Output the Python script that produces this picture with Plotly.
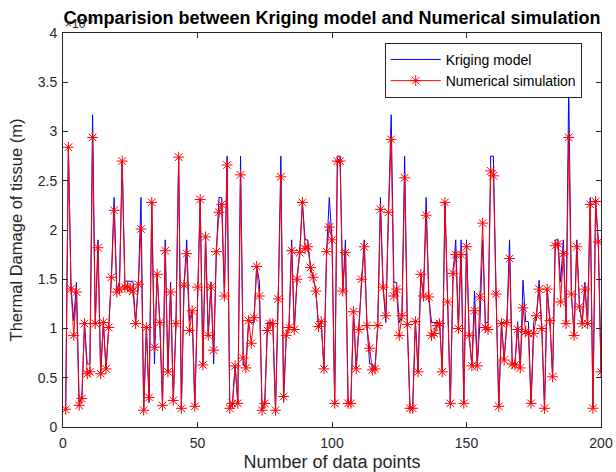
import plotly.graph_objects as go

# Values in units of 1e-3 m (axis shows x10^-3)
numerical = [
    0.18, 2.84, 1.40, 0.93, 1.37, 0.22, 0.29, 1.05, 0.54, 0.56,
    2.94, 1.05, 1.82, 0.54, 1.06, 0.59, 1.01, 1.52, 2.20, 1.37,
    1.40, 2.70, 1.42, 1.43, 1.40, 1.38, 1.05, 1.45, 2.01, 0.17,
    1.01, 0.30, 2.28, 0.81, 1.55, 1.06, 0.22, 1.79, 0.56, 1.37,
    0.27, 1.05, 2.74, 0.19, 1.44, 1.76, 0.98, 1.18, 0.21, 1.42,
    2.31, 0.63, 1.93, 0.93, 1.42, 0.78, 1.78, 2.18, 2.26, 1.33,
    2.66, 0.19, 0.24, 0.62, 0.24, 2.56, 0.70, 0.60, 1.08, 0.85,
    1.11, 1.63, 1.33, 0.17, 0.24, 0.98, 1.05, 1.05, 0.17, 1.30,
    2.54, 0.31, 0.93, 1.01, 1.79, 0.99, 1.50, 1.77, 2.28, 1.81,
    1.83, 1.62, 1.52, 1.38, 1.02, 1.07, 0.59, 1.78, 2.03, 1.90,
    0.24, 2.70, 2.70, 1.38, 1.77, 0.24, 0.24, 1.17, 0.59, 0.99,
    1.50, 1.83, 1.03, 0.80, 0.58, 0.59, 1.03, 2.21, 1.42, 1.13,
    2.18, 2.92, 1.33, 1.40, 0.93, 1.13, 2.53, 1.04, 0.19, 0.19,
    1.07, 0.56, 1.55, 1.33, 2.15, 1.32, 0.93, 0.95, 1.03, 1.05,
    0.56, 2.28, 1.27, 0.24, 1.56, 1.75, 1.00, 1.75, 0.24, 1.83,
    0.93, 0.62, 1.18, 0.62, 1.32, 2.07, 1.01, 0.99, 2.60, 2.55,
    1.35, 0.21, 1.05, 0.68, 1.06, 1.71, 0.64, 0.63, 0.99, 0.60,
    1.21, 0.97, 0.95, 0.24, 0.95, 1.13, 1.40, 1.00, 0.19, 1.40,
    1.08, 0.51, 1.84, 1.86, 1.27, 1.76, 1.05, 2.94, 1.35, 0.93,
    1.83, 1.22, 1.05, 1.40, 1.05, 2.26, 0.19, 2.29, 1.88, 0.56,
]

kriging = [
    0.18, 2.84, 1.40, 1.08, 1.47, 0.25, 0.29, 1.05, 0.64, 0.64,
    3.17, 1.05, 1.90, 0.54, 1.06, 0.59, 1.01, 1.52, 2.33, 1.37,
    1.48, 2.70, 1.48, 1.48, 1.48, 1.48, 1.05, 1.45, 2.33, 0.17,
    1.01, 0.25, 2.28, 0.64, 1.55, 1.06, 0.22, 1.90, 0.56, 1.47,
    0.27, 1.05, 2.74, 0.19, 1.44, 1.90, 1.08, 1.18, 0.21, 1.42,
    2.31, 0.63, 1.93, 0.93, 1.47, 0.64, 1.78, 2.33, 2.33, 1.33,
    2.75, 0.19, 0.24, 0.62, 0.24, 2.75, 0.64, 0.60, 1.08, 1.06,
    1.06, 1.63, 1.48, 0.17, 0.24, 1.06, 1.06, 1.06, 0.17, 1.30,
    2.75, 0.25, 0.93, 1.01, 1.90, 0.99, 1.50, 1.77, 2.28, 1.90,
    1.90, 1.62, 1.52, 1.38, 1.02, 1.07, 0.59, 1.78, 2.33, 1.90,
    0.24, 2.75, 2.75, 1.38, 1.90, 0.24, 0.24, 1.17, 0.59, 1.06,
    1.50, 1.90, 1.03, 0.64, 0.64, 0.59, 1.03, 2.33, 1.42, 1.06,
    2.18, 3.17, 1.47, 1.47, 1.06, 1.13, 2.75, 1.04, 0.19, 0.19,
    1.07, 0.56, 1.55, 1.33, 2.33, 1.32, 1.06, 1.06, 1.06, 1.06,
    0.56, 2.28, 1.27, 0.24, 1.56, 1.90, 1.00, 1.90, 0.24, 1.90,
    0.93, 0.62, 1.38, 0.62, 1.06, 1.90, 1.06, 1.06, 2.75, 2.75,
    1.35, 0.21, 1.05, 0.68, 1.06, 1.90, 0.64, 0.63, 1.07, 0.60,
    1.49, 1.07, 1.07, 0.24, 1.07, 1.13, 1.49, 1.00, 0.19, 1.40,
    1.08, 0.51, 1.90, 1.90, 1.47, 1.90, 1.05, 3.45, 1.35, 0.93,
    1.90, 1.22, 1.05, 1.47, 1.05, 2.33, 0.19, 2.29, 1.88, 0.56,
]

points = list(range(1, len(numerical) + 1))
x_ticks = [0, 50, 100, 150, 200]
y_ticks = [0, 0.5, 1, 1.5, 2, 2.5, 3, 3.5, 4]

FONT = "Liberation Sans, Arial"

fig = go.Figure()
fig.add_trace(go.Scatter(
    x=points, y=kriging, mode="lines", name="Kriging model",
    line=dict(color="#0000FF", width=1),
))
fig.add_trace(go.Scatter(
    x=points, y=numerical, mode="lines+markers", name="Numerical simulation",
    line=dict(color="#FF0000", width=1),
    marker=dict(symbol="asterisk-open", size=9, color="#FF0000",
                line=dict(color="#FF0000", width=1)),
))

axis_common = dict(
    showgrid=False, zeroline=False, showline=True, mirror="ticks",
    linecolor="#262626", linewidth=1, ticks="inside", ticklen=5,
    tickcolor="#262626", automargin=False,
    tickfont=dict(family=FONT, size=14, color="#262626"),
)

fig.update_layout(
    width=616, height=472,
    margin=dict(l=63, r=15, t=33, b=45),
    paper_bgcolor="white", plot_bgcolor="white",
    font=dict(family=FONT, color="#262626"),
    title=dict(
        text="<b>Comparision between Kriging model and Numerical simulation</b>",
        x=0.5, xref="paper", xanchor="center",
        y=1 - 18 / 472, yref="container", yanchor="middle",
        font=dict(family=FONT, size=18, color="#000000"),
    ),
    xaxis=dict(range=[0, 200], tickvals=x_ticks, ticklabelstandoff=3,
               title=dict(text="Number of data points", standoff=6,
                          font=dict(family=FONT, size=18, color="#262626")),
               **axis_common),
    yaxis=dict(range=[0, 4], tickvals=y_ticks, ticklabelstandoff=2,
               title=dict(text="Thermal Damage of tissue (m)", standoff=10,
                          font=dict(family=FONT, size=16.5, color="#262626")),
               **axis_common),
    legend=dict(
        x=0.598, y=0.975, xanchor="left", yanchor="top",
        bgcolor="white", bordercolor="#262626", borderwidth=1,
        font=dict(family=FONT, size=14, color="#000000"),
        tracegroupgap=0, itemwidth=50,
    ),
    showlegend=True,
)

fig.add_annotation(
    text="×10<sup>-3</sup>", xref="paper", yref="paper", x=0.0, y=1.0,
    xanchor="left", yanchor="bottom", showarrow=False,
    font=dict(family=FONT, size=12, color="#262626"),
)

fig.write_html("out.html")
